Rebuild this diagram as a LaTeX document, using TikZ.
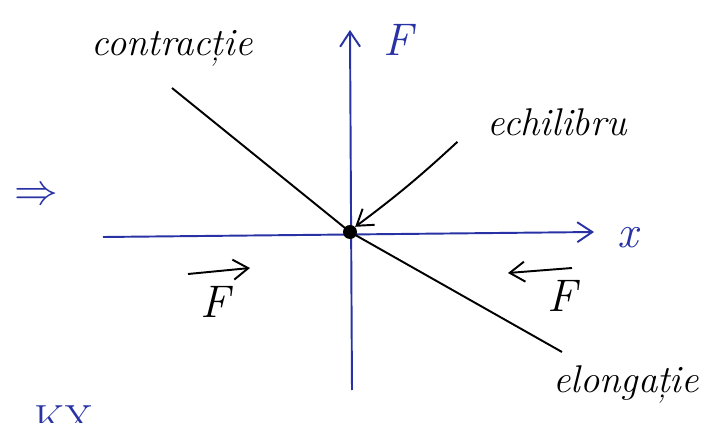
\documentclass[tikz,border=0pt]{standalone}
\usepackage{tikz}
\usetikzlibrary{arrows.meta, positioning, calc}
\usepackage{xcolor}
\definecolor{pen}{RGB}{40,50,165}

\begin{document}
\begin{tikzpicture}[x=0.02cm, y=-0.02cm,
    >={Straight Barb[length=3mm, width=4mm]},
    lbl/.style={font=\fontsize{22}{24}\selectfont\itshape},
    big/.style={font=\fontsize{26}{28}\selectfont\itshape},
    axis/.style={pen, line width=1.1pt}]
      \clip (0,0) rectangle (708,423);
      \useasboundingbox (0,0) rectangle (708,423);

      % axes
      \coordinate (O) at (350,232);
      \coordinate (xl) at (103,237);
      \coordinate (xr) at (594,232);
      \coordinate (yb) at (352,390);
      \coordinate (yt) at (350,30);
      \draw[->, axis] (xl) -- (xr);
      \draw[->, axis] (yb) -- (yt);
      \node[pen, big] (Fy) at (398,40) {F};
      \node[pen, big] (xx) at (628,238) {x};

      % force-displacement line
      \coordinate (c) at (172,88);
      \coordinate (e) at (562,352);
      \draw[line width=1.1pt] (c) -- (O) -- (e);
      \node[circle, fill=black, inner sep=0pt, minimum size=0.28cm] (dot) at (O) {};

      % labels
      \node[lbl] (contr) at (172,48) {contracție};
      \node[lbl] (echi) at (557,122) {echilibru};
      \node[lbl] (elong) at (626,384) {elongație};
      \draw[->, line width=1.1pt] ($(echi.south west)+(-24,0)$) to[bend left=3] (dot.north east);

      % forces
      \node[big] (Fl) at (215,302) {F};
      \coordinate (fl1) at (188,274);
      \coordinate (fl2) at (250,268);
      \draw[->, line width=1.1pt] (fl1) -- (fl2);
      \node[big] (Fr) at (562,296) {F};
      \coordinate (fr1) at (572,268);
      \coordinate (fr2) at (508,273);
      \draw[->, line width=1.1pt] (fr1) -- (fr2);

      % side notes
      \node[pen, font=\fontsize{32}{34}\selectfont] (impl) at (36,196) {$\Rightarrow$};
      \node[pen, lbl, font=\fontsize{24}{26}\selectfont] (kx) at (64,420) {KX};
    \end{tikzpicture}
\end{document}
